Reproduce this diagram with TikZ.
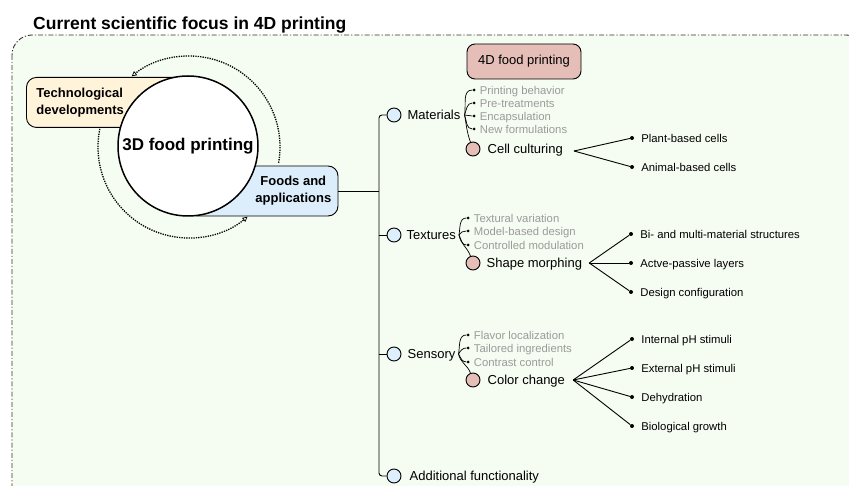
\documentclass[tikz,border=0pt]{standalone}
\usepackage{fontspec}
\setmainfont{Liberation Sans}
\usetikzlibrary{arrows.meta,positioning}

\definecolor{frameGreen}{HTML}{F5FCF2}
\definecolor{techYellow}{HTML}{FFF3DA}
\definecolor{foodBlue}{HTML}{DCEDFB}
\definecolor{topicBlue}{HTML}{DDEEFC}
\definecolor{printPink}{HTML}{E5BEB8}
\definecolor{subGrey}{HTML}{9B9B9B}
\newcommand{\pxfont}[2]{\fontsize{#1}{#2}\selectfont}

\tikzset{
  link/.style={line width=0.9pt},
  twig/.style={line width=0.7pt},
  topic/.style={circle,draw,line width=0.9pt,fill=topicBlue,minimum size=14pt,inner sep=0pt},
  focus/.style={circle,draw,line width=0.9pt,fill=printPink,minimum size=14pt,inner sep=0pt},
  topiclabel/.style={inner sep=0pt,font=\pxfont{13}{16},text height=9.3pt,text depth=0pt},
  greyitem/.style={inner sep=0pt,text=subGrey,font=\pxfont{11.3}{14},text height=8.1pt,text depth=0pt},
  leaf/.style={inner sep=0pt,font=\pxfont{11.3}{14},text height=8.1pt,text depth=0pt},
  twigdot/.style={circle,fill=black,inner sep=0pt,minimum size=3pt},
  leafdot/.style={circle,fill=black,inner sep=0pt,minimum size=4pt},
  cyclearrow/.style={dash pattern=on 1.3pt off 1.1pt,line width=1.3pt,
    -{Triangle[open,length=5pt,width=5pt,line width=0.7pt]}},
  roundbox/.style={draw,line width=0.9pt,rounded corners=10pt,minimum height=50pt},
}

\begin{document}
\begin{tikzpicture}[x=1pt,y=-1pt]
%%%%% START %%%%%
\useasboundingbox (0,0) rectangle (849,486);
\clip (0,0) rectangle (849,486);
\fill[white] (0,0) rectangle (849,486);
\draw[dash pattern=on 5pt off 2pt on 1.2pt off 2pt,line width=0.9pt,draw=black!80,
  fill=frameGreen,rounded corners=20pt] (12,35) rectangle (866,520);

\node[anchor=base west,inner sep=0pt,font=\bfseries\pxfont{17.5}{20}] (title) at (33,30) {Current scientific focus in 4D printing};

% 3D printing cycle
\coordinate (cyc) at (189,147);
\draw[cyclearrow] ([shift={(10:91)}]cyc) arc[start angle=10,end angle=-129,radius=91];
\draw[cyclearrow] ([shift={(193:91)}]cyc) arc[start angle=193,end angle=50,radius=91];

\node[roundbox,fill=techYellow,anchor=north west,text width=150pt,inner xsep=10pt,align=left,
  font=\bfseries\pxfont{13}{17}] (tech) at (26,77) {Technological\\developments};
\node[roundbox,fill=foodBlue,minimum width=150pt] (foods) at (263,191) {};
\node[anchor=east,inner sep=0pt,align=center,font=\bfseries\pxfont{13}{17}] (foodsText)
  at ([xshift=-7pt]foods.east) {Foods and\\applications};
\node[circle,draw,line width=1.5pt,fill=white,minimum size=140pt,inner sep=0pt,
  font=\bfseries\pxfont{17}{20}] (core) at (188,146) {3D food printing};

\node[draw,line width=0.9pt,fill=printPink,rounded corners=8pt,minimum width=114pt,
  minimum height=35pt,font=\pxfont{13}{16}] (fourD) at (524,61.5) {4D food printing};

% main branches
\coordinate (spine) at (379,300);
\node[topic] (mat) at (394,115) {};
\node[topic] (tex) at (394,235) {};
\node[topic] (sen) at (394,354) {};
\node[topic] (add) at (394,476) {};
\node[topiclabel,right=6pt of mat] (matText) {Materials};
\node[topiclabel,right=5pt of tex] (texText) {Textures};
\node[topiclabel,right=6pt of sen] (senText) {Sensory};
\node[topiclabel,right=8pt of add] (addText) {Additional functionality};

\draw[link,rounded corners=3pt] (mat.west) -| (spine) |- (add.west);
\draw[link] (tex.west) -- (tex.west -| spine);
\draw[link] (sen.west) -- (sen.west -| spine);
\draw[link] (foods.east) -- (foods.east -| spine);

% materials
\coordinate (matFan) at ([xshift=4pt]matText.east);
\foreach \y/\o/\t [count=\i] in {90/80/Printing behavior,103/70/Pre-treatments,116/0/Encapsulation,129/-70/New formulations}{
  \node[twigdot] (m\i) at (474,\y) {};
  \node[greyitem,right=4pt of m\i] {\t};
  \draw[twig] (matFan) to[out=\o,in=180] (m\i);
}
\node[focus] (cell) at (473,149) {};
\node[topiclabel,right=7pt of cell] (cellText) {Cell culturing};
\draw[twig] (matFan) to[out=-80,in=110] (cell);
\coordinate (cellFan) at ([xshift=11pt,yshift=-2pt]cellText.east);
\foreach \y/\t [count=\i] in {138/Plant-based cells,167/Animal-based cells}{
  \node[leafdot] (c\i) at (632,\y) {};
  \node[leaf,right=7pt of c\i] {\t};
  \draw[link] (cellFan) -- (c\i);
}

% textures
\coordinate (texFan) at ([xshift=3pt]texText.east);
\foreach \y/\o/\t [count=\i] in {218/80/Textural variation,231/60/Model-based design,245/-60/Controlled modulation}{
  \node[twigdot] (t\i) at (468,\y) {};
  \node[greyitem,right=4pt of t\i] {\t};
  \draw[twig] (texFan) to[out=\o,in=180] (t\i);
}
\node[focus] (shape) at (473,263) {};
\node[topiclabel,right=6pt of shape] (shapeText) {Shape morphing};
\draw[twig] (texFan) to[out=-80,in=110] (shape);
\coordinate (shapeFan) at ([xshift=7pt]shapeText.east);
\foreach \y/\t [count=\i] in {234/Bi- and multi-material structures,263/Actve-passive layers,292/Design configuration}{
  \node[leafdot] (p\i) at (631,\y) {};
  \node[leaf,right=7pt of p\i] {\t};
  \draw[link] (shapeFan) -- (p\i);
}

% sensory
\coordinate (senFan) at ([xshift=3pt]senText.east);
\foreach \y/\o/\t [count=\i] in {335/80/Flavor localization,348/60/Tailored ingredients,362/-60/Contrast control}{
  \node[twigdot] (s\i) at (468,\y) {};
  \node[greyitem,right=4pt of s\i] {\t};
  \draw[twig] (senFan) to[out=\o,in=180] (s\i);
}
\node[focus] (color) at (473,380) {};
\node[topiclabel,right=7pt of color] (colorText) {Color change};
\draw[twig] (senFan) to[out=-80,in=110] (color);
\coordinate (colorFan) at ([xshift=8pt]colorText.east);
\foreach \y/\t [count=\i] in {339/Internal pH stimuli,368/External pH stimuli,397/Dehydration,426/Biological growth}{
  \node[leafdot] (k\i) at (632,\y) {};
  \node[leaf,right=7pt of k\i] {\t};
  \draw[link] (colorFan) -- (k\i);
}
%%%%% END %%%%%
\end{tikzpicture}
\end{document}
